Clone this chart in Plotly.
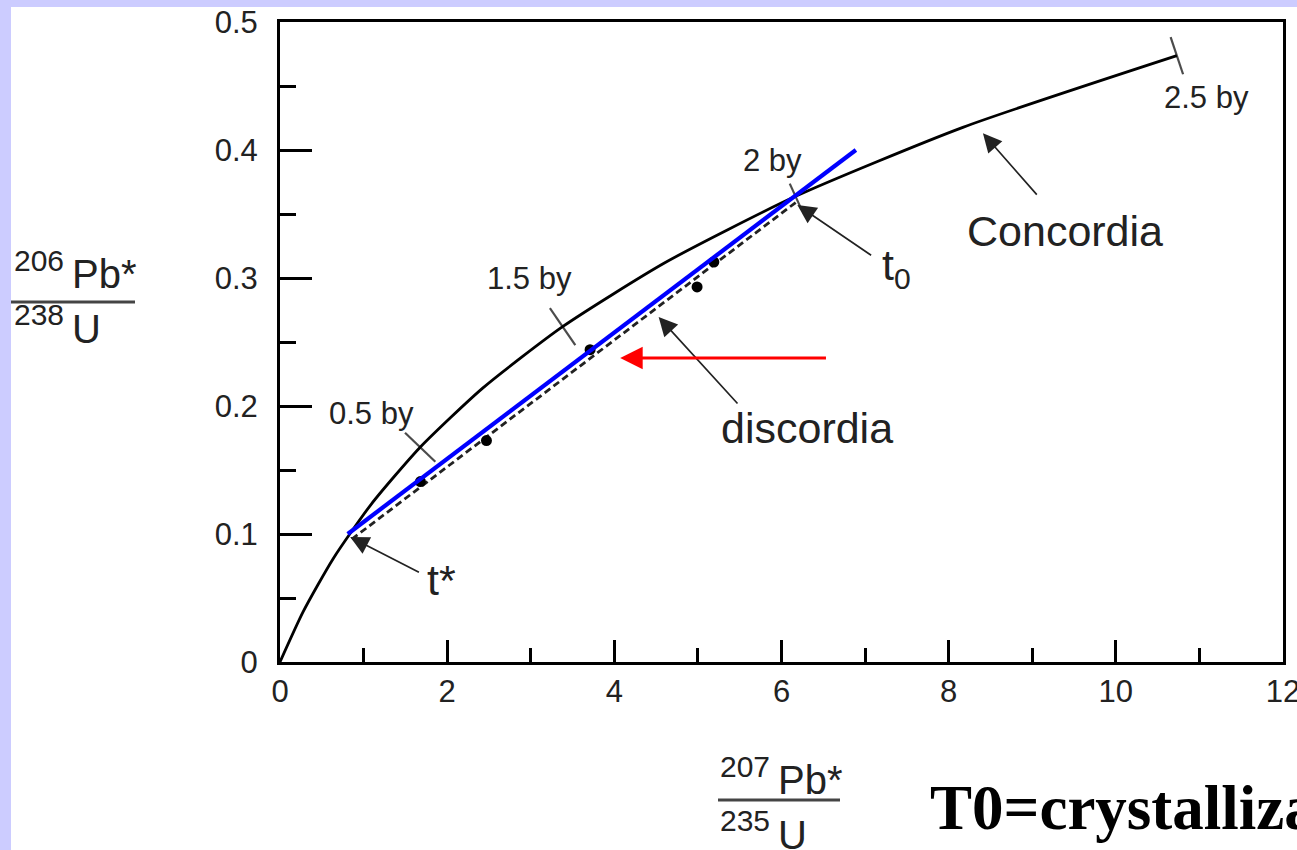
import math
import plotly.graph_objects as go

# ---------------- data ----------------
conc_age = [0.0, 0.25, 0.5, 0.75, 1.0, 1.25, 1.5, 1.75, 2.0, 2.25, 2.5]
conc_x = [0.0, 0.279, 0.636, 1.093, 1.677, 2.425, 3.381, 4.604, 6.168, 8.170, 10.730]
conc_y = [0.0, 0.0395, 0.0807, 0.1234, 0.1678, 0.2140, 0.2620, 0.3119, 0.3638, 0.4177, 0.4737]

tick_ages = [1.0, 1.5, 2.0, 2.5]
tick_texts = ["0.5 by", "1.5 by", "2 by", "2.5 by"]
tick_text_x = [1.09, 2.99, 5.89, 11.09]
tick_text_y = [0.1945, 0.300, 0.392, 0.441]
tick_sizes = [30, 32, 20, 28]

disc_x = [0.86, 6.17]
disc_y = [0.096, 0.359]

sample_x = [1.68, 2.47, 3.71, 4.99, 5.19]
sample_y = [0.141, 0.173, 0.244, 0.293, 0.3125]

fit_x = [0.81, 6.89]
fit_y = [0.100, 0.400]

x_ticks = [0, 2, 4, 6, 8, 10, 12]
y_ticks = [0, 0.1, 0.2, 0.3, 0.4, 0.5]
y_tick_text = ["0", "0.1", "0.2", "0.3", "0.4", "0.5"]

# labelled arrows
arrow_labels = ["t*", "t<sub>0</sub>", "Concordia", "discordia"]
arrow_text_x = [1.93, 7.37, 9.39, 6.30]
arrow_text_y = [0.064, 0.308, 0.337, 0.183]
arrow_head_x = [0.84, 6.19, 8.41, 4.53]
arrow_head_y = [0.0977, 0.357, 0.413, 0.2695]
arrow_tail_x = [1.68, 7.09, 9.07, 5.49]
arrow_tail_y = [0.0695, 0.317, 0.364, 0.2008]

red_head = (4.07, 0.2375)
red_tail = (6.55, 0.2375)

# ---------------- layout geometry ----------------
W, H = 1297, 850
ML, MR, MT, MB = 280, 14, 22, 188
PW, PH = W - ML - MR, H - MT - MB
XR = [0, 12]
YR = [0, 0.5]
SX = PW / (XR[1] - XR[0])
SY = PH / (YR[1] - YR[0])

def px(xpix):
    return (xpix - ML) / PW

def py(ypix):
    return (H - MB - ypix) / PH

SANS = "Liberation Sans, Arial, sans-serif"
SERIF = "Liberation Serif, Times New Roman, serif"

fig = go.Figure()

# concordia curve
fig.add_trace(go.Scatter(x=conc_x, y=conc_y, mode="lines",
                         line=dict(color="black", width=2.8, shape="spline", smoothing=0.6),
                         hoverinfo="skip"))

# age tick marks perpendicular to concordia
mx, my, mang = [], [], []
n = len(conc_age)
for a in tick_ages:
    i = conc_age.index(a)
    j0, j1 = max(i - 1, 0), min(i + 1, n - 1)
    dxp = (conc_x[j1] - conc_x[j0]) * SX
    dyp = (conc_y[j1] - conc_y[j0]) * SY
    alpha = math.degrees(math.atan2(dyp, dxp))
    mx.append(conc_x[i]); my.append(conc_y[i]); mang.append(-alpha)
fig.add_trace(go.Scatter(x=mx, y=my, mode="markers",
                         marker=dict(symbol="line-ns", size=tick_sizes, angle=mang,
                                     line=dict(color="black", width=2.2)),
                         hoverinfo="skip"))

# discordia (dashed)
fig.add_trace(go.Scatter(x=disc_x, y=disc_y, mode="lines",
                         line=dict(color="#222", width=2.8, dash="7px,4px"), hoverinfo="skip"))

# sample points
fig.add_trace(go.Scatter(x=sample_x, y=sample_y, mode="markers",
                         marker=dict(color="black", size=11), hoverinfo="skip"))

# blue fitted line
fig.add_trace(go.Scatter(x=fit_x, y=fit_y, mode="lines",
                         line=dict(color="#0000FF", width=4.2), hoverinfo="skip"))

annotations = []
for t, x, y in zip(tick_texts, tick_text_x, tick_text_y):
    annotations.append(dict(x=x, y=y, xref="x", yref="y", text=t, showarrow=False,
                            font=dict(family=SANS, size=31, color="#222")))
for t, x, y in zip(arrow_labels, arrow_text_x, arrow_text_y):
    annotations.append(dict(x=x, y=y, xref="x", yref="y", text=t, showarrow=False,
                            font=dict(family=SANS, size=43, color="#222")))
for hx, hy, tx, ty in zip(arrow_head_x, arrow_head_y, arrow_tail_x, arrow_tail_y):
    annotations.append(dict(x=hx, y=hy, ax=tx, ay=ty, xref="x", yref="y",
                            axref="x", ayref="y", text="", showarrow=True,
                            arrowhead=2, arrowsize=2.2, arrowwidth=1.7, arrowcolor="#222"))
annotations.append(dict(x=red_head[0], y=red_head[1], ax=red_tail[0], ay=red_tail[1],
                        xref="x", yref="y", axref="x", ayref="y", text="", showarrow=True,
                        arrowhead=2, arrowsize=1.5, arrowwidth=3, arrowcolor="#FF0000"))

# axis titles as fractions
def frac(left, top_sup, top_main, bot_sup, bot_main, yc_top, yc_bot, line_y, line_x0, line_x1):
    out = [
        dict(x=px(left), y=py(yc_top - 10), xref="paper", yref="paper", text=top_sup,
             showarrow=False, xanchor="left", yanchor="middle",
             font=dict(family=SANS, size=30, color="#222")),
        dict(x=px(left + 58), y=py(yc_top + 4), xref="paper", yref="paper", text=top_main,
             showarrow=False, xanchor="left", yanchor="middle",
             font=dict(family=SANS, size=40, color="#222")),
        dict(x=px(left), y=py(yc_bot - 12), xref="paper", yref="paper", text=bot_sup,
             showarrow=False, xanchor="left", yanchor="middle",
             font=dict(family=SANS, size=30, color="#222")),
        dict(x=px(left + 58), y=py(yc_bot + 3), xref="paper", yref="paper", text=bot_main,
             showarrow=False, xanchor="left", yanchor="middle",
             font=dict(family=SANS, size=40, color="#222")),
    ]
    shape = dict(type="line", xref="paper", yref="paper", x0=px(line_x0), x1=px(line_x1),
                 y0=py(line_y), y1=py(line_y), line=dict(color="#444", width=3))
    return out, shape

ya, ys = frac(12, "206", "Pb*", "238", "U", 270, 326, 302, 11, 135)
xa, xs = frac(718, "207", "Pb*", "235", "U", 776, 832, 800, 718, 840)
annotations += ya + xa

annotations.append(dict(x=px(928), y=py(808), xref="paper", yref="paper",
                        text="<b>T0=crystallization age</b>", showarrow=False,
                        xanchor="left", yanchor="middle",
                        font=dict(family=SERIF, size=63, color="black")))

shapes = [
    dict(type="rect", xref="paper", yref="paper", x0=px(0), x1=px(W + 20),
         y0=py(0 - 20), y1=py(7), fillcolor="#CCCCFF", line=dict(width=0), layer="below"),
    dict(type="rect", xref="paper", yref="paper", x0=px(-20), x1=px(11),
         y0=py(H + 20), y1=py(-20), fillcolor="#CCCCFF", line=dict(width=0), layer="below"),
    ys, xs,
]

fig.update_layout(
    width=W, height=H, autosize=False,
    margin=dict(l=ML, r=MR, t=MT, b=MB, pad=0, autoexpand=False),
    paper_bgcolor="white", plot_bgcolor="white",
    showlegend=False,
    annotations=annotations,
    shapes=shapes,
    xaxis=dict(range=XR, tickmode="array", tickvals=x_ticks, automargin=False,
               ticks="inside", ticklen=22, tickwidth=2.5, tickcolor="black",
               minor=dict(ticks="inside", ticklen=14, tickwidth=2.5, tickcolor="black",
                          dtick=1, tick0=0, showgrid=False),
               showgrid=False, zeroline=False, showline=True, linecolor="black",
               linewidth=3, mirror=True, ticklabelstandoff=0, ticklabeloverflow="allow",
               tickfont=dict(family=SANS, size=31, color="#222")),
    yaxis=dict(range=YR, tickmode="array", tickvals=y_ticks, ticktext=y_tick_text,
               automargin=False,
               ticks="inside", ticklen=32, tickwidth=2.5, tickcolor="black",
               minor=dict(ticks="inside", ticklen=16, tickwidth=2.5, tickcolor="black",
                          dtick=0.05, tick0=0, showgrid=False),
               showgrid=False, zeroline=False, showline=True, linecolor="black",
               linewidth=3, mirror=True, ticklabelstandoff=13, ticklabeloverflow="allow",
               tickfont=dict(family=SANS, size=31, color="#222")),
)

fig.write_html("out.html", config={"displayModeBar": False},
               post_script="document.body.style.margin='0';document.body.style.overflow='hidden';")
